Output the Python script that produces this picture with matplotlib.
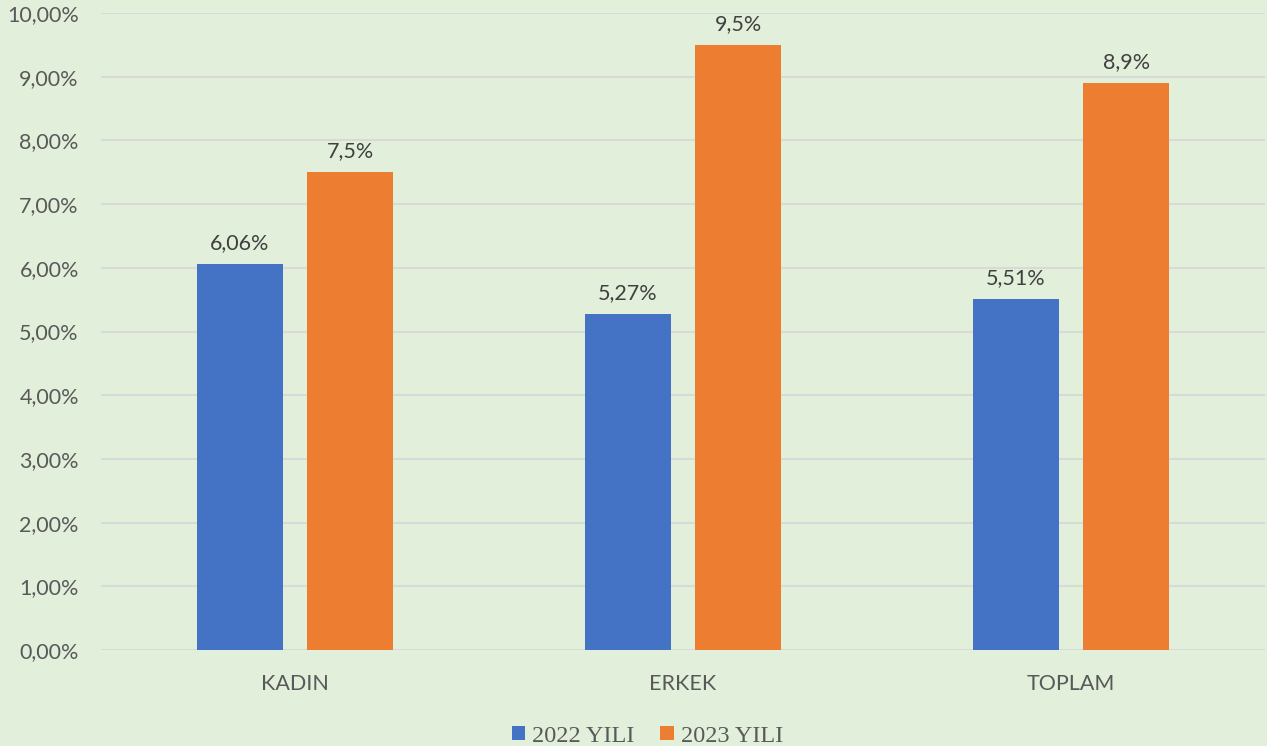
import matplotlib.pyplot as plt
import numpy as np
from matplotlib.ticker import FuncFormatter

kategoriler = ['KADIN', 'ERKEK', 'TOPLAM']
yil_2022 = [6.06, 5.27, 5.51]
yil_2023 = [7.5, 9.5, 8.9]
etiket_2022 = ['6,06%', '5,27%', '5,51%']
etiket_2023 = ['7,5%', '9,5%', '8,9%']

bg = '#E2EFDA'
mavi = '#4472C4'
turuncu = '#ED7D31'
yazi = '#595959'

plt.rcParams['font.family'] = ['Lato', 'DejaVu Sans']

fig = plt.figure(figsize=(12.67, 7.46), dpi=100, facecolor=bg)
ax = fig.add_axes([101 / 1267, 96 / 746, 1164 / 1267, 637 / 746])
ax.set_facecolor(bg)

x = np.arange(len(kategoriler))
w = 0.222
off = 0.142
b1 = ax.bar(x - off, yil_2022, w, color=mavi, label='2022 YILI', zorder=3)
b2 = ax.bar(x + off, yil_2023, w, color=turuncu, label='2023 YILI', zorder=3)

for rect, t in zip(b1, etiket_2022):
    ax.annotate(t, (rect.get_x() + rect.get_width() / 2, rect.get_height()),
                xytext=(0, 8), textcoords='offset points', ha='center', va='bottom',
                fontsize=15.5, color='#404040')
for rect, t in zip(b2, etiket_2023):
    ax.annotate(t, (rect.get_x() + rect.get_width() / 2, rect.get_height()),
                xytext=(0, 8), textcoords='offset points', ha='center', va='bottom',
                fontsize=15.5, color='#404040')

ax.set_xlim(-0.5, 2.5)
ax.set_ylim(0, 10)
ax.set_yticks(np.arange(0, 11, 1))
ax.yaxis.set_major_formatter(FuncFormatter(lambda v, p: ('%.2f%%' % v).replace('.', ',')))
ax.set_xticks(x)
ax.set_xticklabels(kategoriler)
ax.tick_params(axis='both', length=0, labelsize=15.5, colors=yazi)
ax.tick_params(axis='y', pad=16)
ax.tick_params(axis='x', pad=17)
ax.grid(axis='y', color='#D9D9D9', linewidth=1.5, zorder=0)
for s in ax.spines.values():
    s.set_visible(False)

leg = fig.legend(handles=[b1, b2], loc='lower center', bbox_to_anchor=(0.511, -0.03), ncol=2,
                 frameon=False, handlelength=0.55, handleheight=0.55, handletextpad=0.3,
                 columnspacing=1.05, prop={'family': 'Liberation Serif', 'size': 17.5})
for t in leg.get_texts():
    t.set_color(yazi)

fig.savefig('out.png', dpi=100, facecolor=bg)
